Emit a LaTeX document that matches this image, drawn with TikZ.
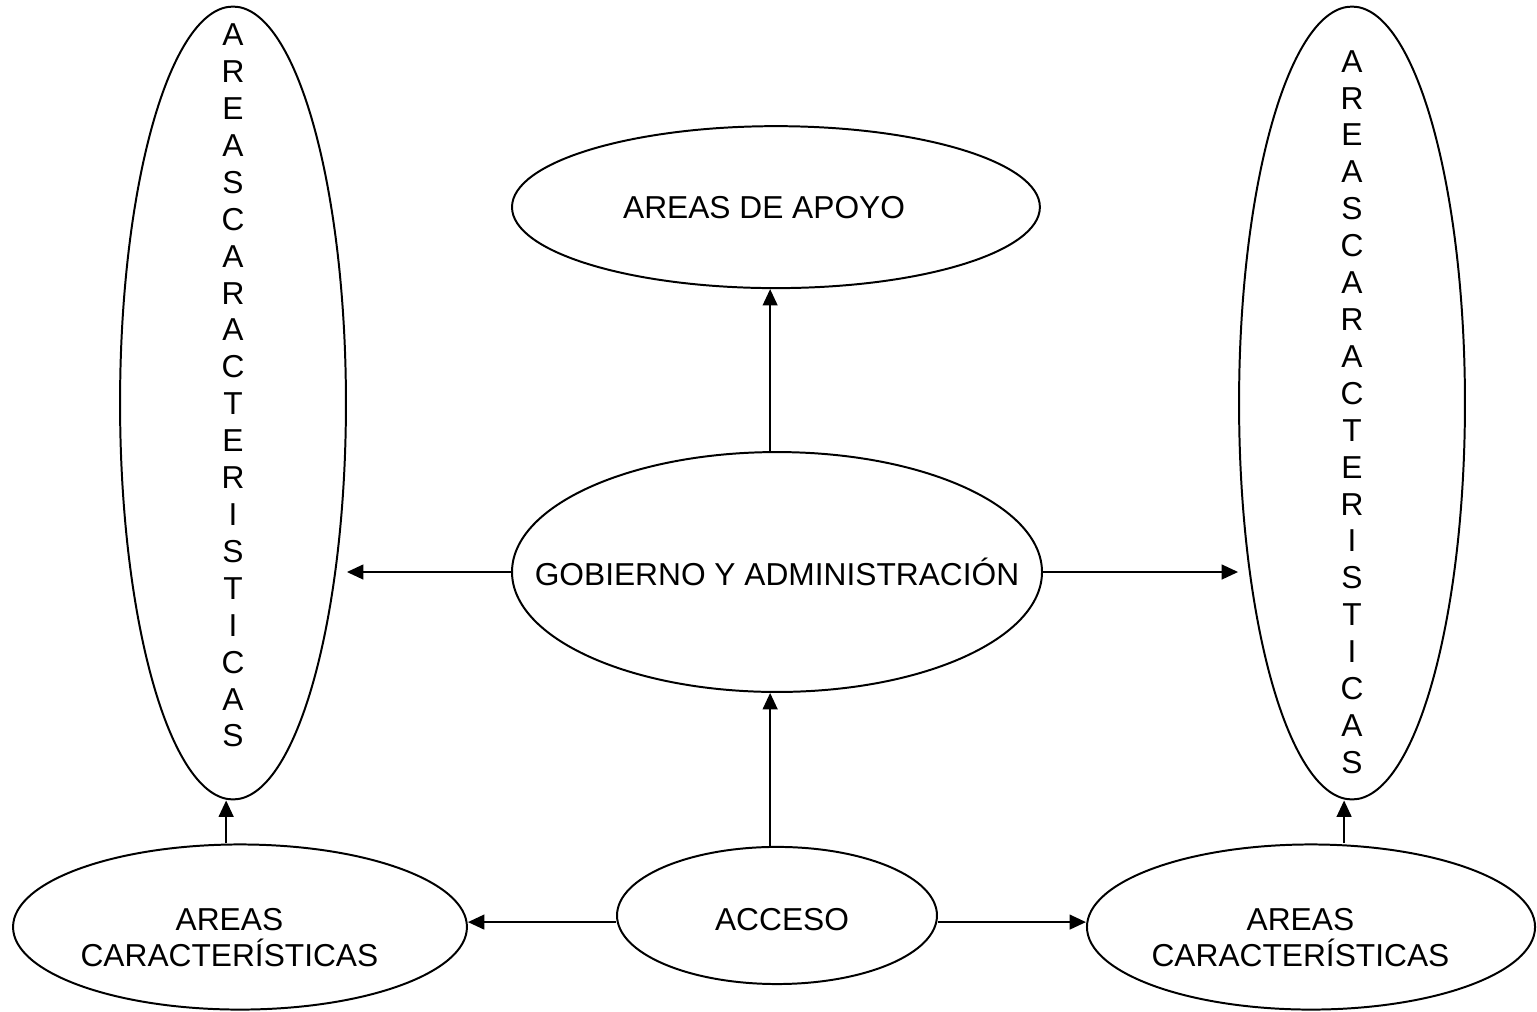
\documentclass[tikz,border=0pt]{standalone}
\usepackage{fontspec}
\setmainfont{Liberation Sans}
\usetikzlibrary{arrows.meta}
\usetikzlibrary{positioning}
\usetikzlibrary{shapes.geometric}

\begin{document}
\begin{tikzpicture}[x=0.3785pt, y=-0.3785pt,
      >={Triangle[length=6.2pt, width=5.6pt]},
      font=\fontsize{12}{13.97}\selectfont,
      oval/.style={draw, ellipse, line width=0.75pt, inner sep=0pt},
      link/.style={->, line width=0.7pt}]
      \useasboundingbox (0,0) rectangle (1537,1011);

      \node [oval, minimum width=200.6pt, minimum height=90.8pt,
             label={center:GOBIERNO Y ADMINISTRACIÓN}] (gob) at (777,572) {};
      \node [oval, above=61.3pt of gob, xshift=-0.4pt, minimum width=199.8pt,
             minimum height=61.3pt,
             label={[xshift=-4.5pt]center:AREAS DE APOYO}] (apoyo) {};
      \node [oval, below=57.9pt of gob, minimum width=121.1pt,
             minimum height=51.9pt,
             label={[xshift=1.9pt, yshift=-1.7pt]center:ACCESO}] (acceso) {};

      \node [oval, minimum width=85.5pt, minimum height=300.1pt,
             label={[align=center, yshift=6.6pt]center:A\\R\\E\\A\\S\\C\\A\\R\\A\\C\\T\\E\\R\\I\\S\\T\\I\\C\\A\\S}]
            (lefttall) at (233,403) {};
      \node [oval, minimum width=85.5pt, minimum height=300.1pt,
             label={[align=center, yshift=-3.4pt]center:A\\R\\E\\A\\S\\C\\A\\R\\A\\C\\T\\E\\R\\I\\S\\T\\I\\C\\A\\S}]
            (righttall) at (1352,403) {};

      \node [oval, minimum width=171.8pt, minimum height=62.5pt,
             label={[align=center, xshift=-4pt, yshift=-4pt]center:AREAS\\CARACTERÍSTICAS}]
            (leftcar) at (240,927) {};
      \node [oval, minimum width=169.6pt, minimum height=62.5pt,
             label={[align=center, xshift=-4pt, yshift=-4pt]center:AREAS\\CARACTERÍSTICAS}]
            (rightcar) at (1311,927) {};

      \draw [link] ([xshift=-2.6pt]gob.north) -- ([xshift=-2.6pt]gob.north |- apoyo.south);
      \draw [link] ([xshift=-2.6pt]acceso.north) -- ([xshift=-2.6pt]acceso.north |- gob.south);
      \draw [link] (gob.west) -- (gob.west -| lefttall.east);
      \draw [link] (gob.east) -- (gob.east -| righttall.west);
      \draw [link] ([yshift=-2.5pt]acceso.west) -- ([yshift=-2.5pt]acceso.west -| leftcar.east);
      \draw [link] ([yshift=-2.5pt]acceso.east) -- ([yshift=-2.5pt]acceso.east -| rightcar.west);
      \draw [link] ([xshift=-2.6pt]lefttall.south |- leftcar.north) -- ([xshift=-2.6pt]lefttall.south);
      \draw [link] ([xshift=-3pt]righttall.south |- rightcar.north) -- ([xshift=-3pt]righttall.south);
\end{tikzpicture}
\end{document}
